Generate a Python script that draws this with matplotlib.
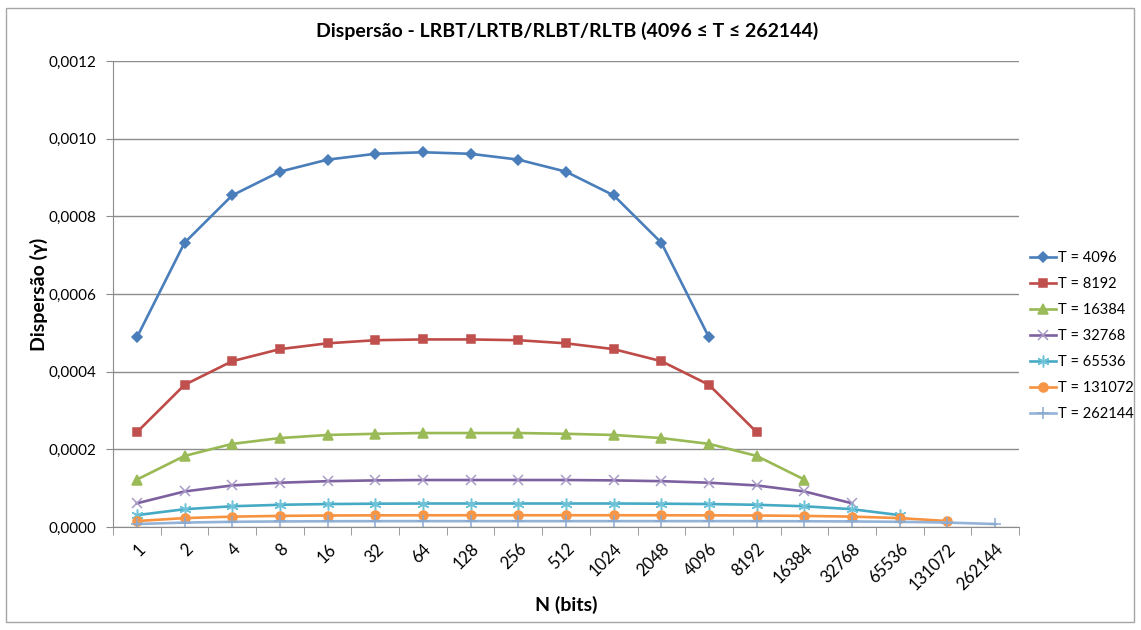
import matplotlib.pyplot as plt
from matplotlib.patches import Rectangle
from matplotlib.ticker import FuncFormatter

plt.rcParams["font.family"] = ["Lato", "DejaVu Sans"]

n_labels = ["1", "2", "4", "8", "16", "32", "64", "128", "256", "512", "1024",
            "2048", "4096", "8192", "16384", "32768", "65536", "131072", "262144"]

t_4096 = [0.000488, 0.000732, 0.000854, 0.000915, 0.000946, 0.000961, 0.000965,
          0.000961, 0.000946, 0.000915, 0.000854, 0.000732, 0.000488]
t_8192 = [0.000244, 0.000366, 0.000427, 0.000458, 0.000473, 0.000481, 0.000483,
          0.000483, 0.000481, 0.000473, 0.000458, 0.000427, 0.000366, 0.000244]
t_16384 = [0.000122, 0.000183, 0.000214, 0.000229, 0.000237, 0.000240, 0.000242,
           0.000242, 0.000242, 0.000240, 0.000237, 0.000229, 0.000214, 0.000183,
           0.000122]
t_32768 = [0.0000610, 0.0000915, 0.000107, 0.000114, 0.000118, 0.000120, 0.000121,
           0.000121, 0.000121, 0.000121, 0.000120, 0.000118, 0.000114, 0.000107,
           0.0000915, 0.0000610]
t_65536 = [0.0000305, 0.0000458, 0.0000534, 0.0000572, 0.0000591, 0.0000600,
           0.0000605, 0.0000605, 0.0000605, 0.0000605, 0.0000605, 0.0000600,
           0.0000591, 0.0000572, 0.0000534, 0.0000458, 0.0000305]
t_131072 = [0.0000153, 0.0000229, 0.0000267, 0.0000286, 0.0000296, 0.0000300,
            0.0000302, 0.0000303, 0.0000303, 0.0000303, 0.0000303, 0.0000302,
            0.0000300, 0.0000296, 0.0000286, 0.0000267, 0.0000229, 0.0000153]
t_262144 = [0.0000076, 0.0000114, 0.0000134, 0.0000143, 0.0000148, 0.0000150,
            0.0000151, 0.0000151, 0.0000151, 0.0000151, 0.0000151, 0.0000151,
            0.0000151, 0.0000150, 0.0000148, 0.0000143, 0.0000134, 0.0000114,
            0.0000076]

series = [
    ("T = 4096", t_4096),
    ("T = 8192", t_8192),
    ("T = 16384", t_16384),
    ("T = 32768", t_32768),
    ("T = 65536", t_65536),
    ("T = 131072", t_131072),
    ("T = 262144", t_262144),
]

# line colour, marker, marker size, marker face, marker edge
styles = [
    ("#4A7EBB", "D", 5.5, "#4A7EBB", "#4A7EBB"),
    ("#BE4B48", "s", 6, "#C0504D", "#C0504D"),
    ("#98B954", "^", 7, "#9BBB59", "#9BBB59"),
    ("#7D60A0", "x", 7.5, "none", "#A99BC7"),
    ("#46AAC5", (6, 2, 0), 8.5, "none", "#6FC3D8"),
    ("#F69240", "o", 6.5, "#F79646", "#F79646"),
    ("#94B3D6", "+", 8, "none", "#8AA9D0"),
]

fig = plt.figure(figsize=(11.41, 6.3), dpi=100)
fig.patches.append(Rectangle((6 / 1141, 8 / 630), 1128 / 1141, 614 / 630,
                             transform=fig.transFigure, fill=False,
                             edgecolor="#A6A6A6", linewidth=1))

ax = fig.add_axes([113 / 1141, 1 - 527 / 630, 906 / 1141, 466 / 630])

for (label, values), (color, marker, ms, mfc, mec) in zip(series, styles):
    x = list(range(len(values)))
    ax.plot(x, values, color=color, linewidth=1.9, marker=marker, markersize=ms,
            markerfacecolor=mfc, markeredgecolor=mec, markeredgewidth=1.1,
            label=label)

ax.set_xlim(-0.5, len(n_labels) - 0.5)
ax.set_ylim(0, 0.0012)
ax.set_yticks([0, 0.0002, 0.0004, 0.0006, 0.0008, 0.0010, 0.0012])
ax.yaxis.set_major_formatter(FuncFormatter(lambda v, p: f"{v:.4f}".replace(".", ",")))
ax.grid(axis="y", color="#8C8C8C", linewidth=1)
ax.set_axisbelow(True)

ax.set_xticks(range(len(n_labels)))
ax.set_xticklabels(n_labels, rotation=45, ha="right", va="top",
                   rotation_mode="anchor", fontsize=12)
ax.set_xticks([i - 0.5 for i in range(len(n_labels) + 1)], minor=True)
ax.tick_params(axis="x", which="major", length=0, pad=10)
ax.tick_params(axis="x", which="minor", length=6, color="#8C8C8C", direction="out")
ax.tick_params(axis="y", length=5, color="#8C8C8C", labelsize=11, pad=7)

for side in ["top", "right"]:
    ax.spines[side].set_visible(False)
for side in ["left", "bottom"]:
    ax.spines[side].set_color("#8C8C8C")

ax.set_xlabel("N (bits)", fontsize=14, fontweight="bold", labelpad=2)
ax.set_ylabel("Dispersão (γ)", fontsize=14, fontweight="bold", labelpad=0)
fig.text(567 / 1141, 1 - 31 / 630,
         "Dispersão - LRBT/LRTB/RLBT/RLTB (4096 ≤ T ≤ 262144)",
         ha="center", va="center", fontsize=14, fontweight="bold")

fig.legend(loc="center left", bbox_to_anchor=(1030 / 1141, 1 - 336 / 630),
           frameon=False, fontsize=10.5, handlelength=1.8, handletextpad=0.15,
           labelspacing=0.82, borderaxespad=0, borderpad=0)

fig.savefig("out.png", dpi=100, facecolor="white")
